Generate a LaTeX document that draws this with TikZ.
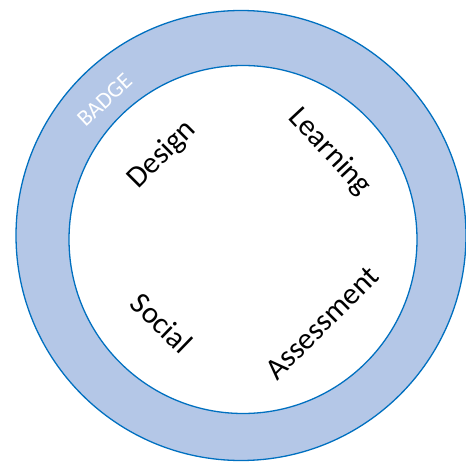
\documentclass[tikz,border=0pt]{standalone}
\usepackage{fontspec}
\setmainfont{Carlito}
\definecolor{rimfill}{HTML}{B4C7E7}
\definecolor{rimline}{HTML}{0070C0}
\begin{document}
\begin{tikzpicture}[x=1pt,y=1pt,
  ring/.style={draw=rimline,line width=1.3pt},
  lbl/.style={font=\fontsize{30.5}{36}\selectfont,text=black,inner sep=0pt}]
\useasboundingbox (0,0) rectangle (466,461);
\begin{scope}
\clip (0,0) rectangle (466,461);
\path[ring,fill=rimfill] (241,225.5) circle (225);
\path[ring,fill=white] (243,221.5) circle (174);
\end{scope}
\node[font=\fontsize{23}{27}\selectfont,text=white,inner sep=0pt,rotate=43] (badge) at (104.5,361) {BADGE};
\node[lbl,rotate=45] (design) at (162,306) {Design};
\node[lbl,rotate=-47] (learning) at (330,309) {Learning};
\node[lbl,rotate=-44] (social) at (162,138) {Social};
\node[lbl,rotate=45] (assess) at (322,138) {Assessment};
\end{tikzpicture}
\end{document}
